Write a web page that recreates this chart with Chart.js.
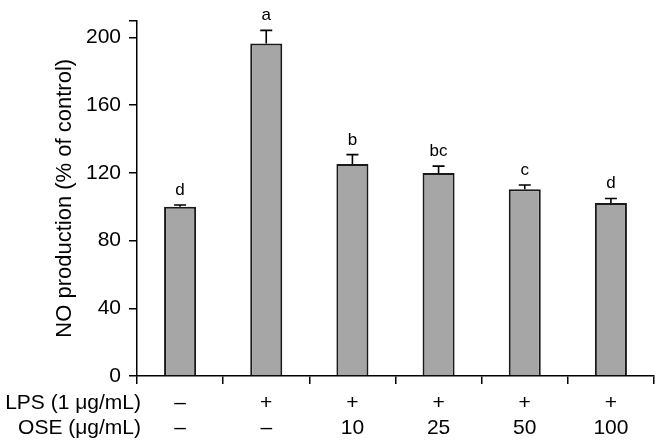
<!DOCTYPE html>
<html>
<head>
<meta charset="utf-8">
<script src="https://cdn.jsdelivr.net/npm/chart.js@4.4.1/dist/chart.umd.min.js"></script>
<style>
  body { margin: 0; background: #fff; }
</style>
</head>
<body>
<canvas id="myChart" width="656" height="443"></canvas>
<script>
// data
const groups = ['Control', 'LPS', 'LPS+OSE 10', 'LPS+OSE 25', 'LPS+OSE 50', 'LPS+OSE 100'];
const lpsRow = ['–', '+', '+', '+', '+', '+'];
const oseRow = ['–', '–', '10', '25', '50', '100'];
const rowTitles = ['LPS (1 μg/mL)', 'OSE (μg/mL)'];
const noValues = [100, 196.5, 125.3, 120, 110.4, 102.2];
const errValues = [1, 7.7, 5.5, 4, 2.5, 2.7];
const sigLetters = ['d', 'a', 'b', 'bc', 'c', 'd'];
const yTickValues = [0, 40, 80, 120, 160, 200];

const FONT = "'Liberation Sans', Arial, sans-serif";
Chart.defaults.font.family = FONT;
Chart.defaults.color = '#000';

// error bars (upper only), letters and row headers
const extras = {
    id: 'extras',
    afterDatasetsDraw(chart) {
        const ctx = chart.ctx;
        const y = chart.scales.y;
        const bars = chart.getDatasetMeta(0).data;
        ctx.save();
        ctx.strokeStyle = '#000';
        ctx.lineWidth = 1.6;
        bars.forEach((bar, i) => {
            const top = y.getPixelForValue(noValues[i]);
            const capY = y.getPixelForValue(noValues[i] + errValues[i]);
            ctx.beginPath();
            ctx.moveTo(bar.x, top);
            ctx.lineTo(bar.x, capY);
            ctx.moveTo(bar.x - 6, capY);
            ctx.lineTo(bar.x + 6, capY);
            ctx.stroke();
            ctx.fillStyle = '#000';
            ctx.font = '17px ' + FONT;
            ctx.textAlign = 'center';
            ctx.textBaseline = 'alphabetic';
            ctx.fillText(sigLetters[i], bar.x, capY - 10);
        });
        ctx.restore();
    },
    afterDraw(chart) {
        const ctx = chart.ctx;
        const x = chart.scales.x;
        const lh = 24.5;
        const start = x.top + 8 + 7;
        ctx.save();
        ctx.fillStyle = '#000';
        ctx.font = '21px ' + FONT;
        ctx.textAlign = 'right';
        ctx.textBaseline = 'middle';
        rowTitles.forEach((t, i) => {
            ctx.fillText(t, 141, start + lh * (i + 0.5));
        });
        ctx.restore();
    }
};

let myChart = document.getElementById('myChart').getContext('2d');
let noChart = new Chart(myChart, {
    type: 'bar',
    data: {
        labels: groups.map((g, i) => [lpsRow[i], oseRow[i]]),
        datasets: [{
            label: 'NO production',
            data: noValues,
            backgroundColor: '#a6a6a6',
            borderColor: '#1a1a1a',
            borderWidth: 2,
            barPercentage: 0.372,
            categoryPercentage: 1
        }]
    },
    options: {
        responsive: false,
        animation: false,
        layout: {
            padding: { top: 9, right: 2, left: 0, bottom: 0 }
        },
        plugins: {
            legend: { display: false },
            tooltip: { enabled: false }
        },
        scales: {
            x: {
                afterFit: s => { s.height = 67; },
                grid: { drawOnChartArea: false, drawTicks: true, tickLength: 8, color: '#000', lineWidth: 1.5 },
                border: { color: '#000', width: 1.5 },
                ticks: {
                    autoSkip: false,
                    maxRotation: 0,
                    padding: 7,
                    font: { size: 21, lineHeight: 24.5 / 21 },
                    color: '#000'
                }
            },
            y: {
                min: 0,
                max: 210,
                afterFit: s => { s.width = 137; },
                afterBuildTicks: s => {
                    s.ticks = yTickValues.concat([210]).map(v => ({ value: v }));
                },
                grid: { drawOnChartArea: false, drawTicks: true, tickLength: 8, color: '#000', lineWidth: 1.5 },
                border: { color: '#000', width: 1.5 },
                ticks: {
                    padding: 8,
                    font: { size: 21 },
                    color: '#000',
                    callback: v => (yTickValues.includes(v) ? String(v) : '')
                },
                title: {
                    display: true,
                    text: 'NO production (% of control)',
                    font: { size: 22 },
                    color: '#000',
                    padding: { top: 52, bottom: 0 }
                }
            }
        }
    },
    plugins: [extras]
});
</script>
</body>
</html>
